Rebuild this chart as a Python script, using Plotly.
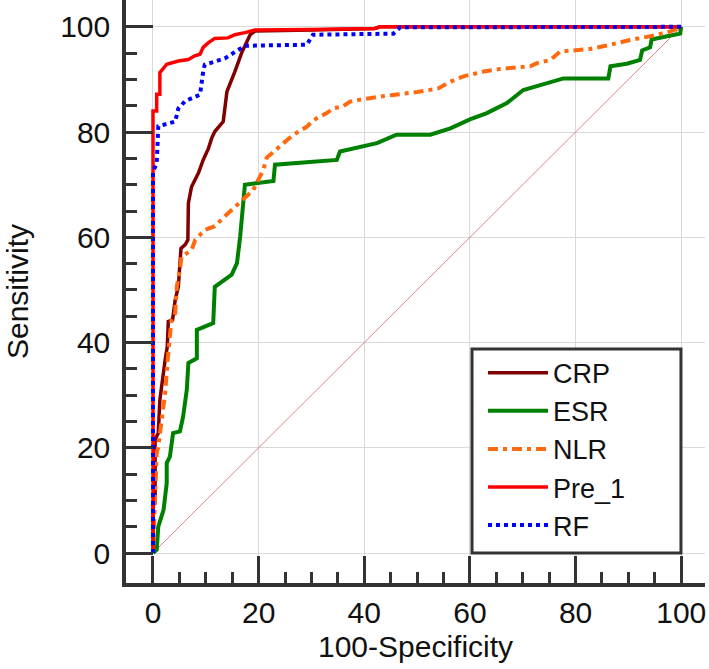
import plotly.graph_objects as go

# ---- data ----
series_names = ["CRP", "ESR", "NLR", "Pre_1", "RF"]

crp_x = [0, 0, 0.4, 0.4, 1.0, 1.3, 2.3, 2.7, 2.9, 3.7, 4.2, 4.8, 5.3, 6.1, 6.6, 6.7, 7.3, 8.6, 9.5, 10.5, 11.1, 11.7, 13.3, 14.0, 15.5, 16.8, 18.4, 19.3, 30, 42, 43, 100]
crp_y = [0, 9, 9.5, 21.5, 22.8, 29.1, 36.7, 39.2, 44, 44.3, 48.1, 50.6, 57.9, 58.6, 59.5, 66.5, 69.6, 72.2, 74.7, 76.9, 78.8, 80.1, 82, 87.7, 91.5, 95.1, 98.5, 99.2, 99.4, 99.7, 100, 100]

esr_x = [0, 0.7, 1.0, 1.6, 2.0, 2.6, 2.6, 3.2, 3.8, 5.1, 5.7, 6.4, 6.7, 8.3, 8.3, 11.4, 11.7, 14.9, 15.9, 16.5, 17.1, 17.4, 22.8, 23.1, 34.8, 35.4, 42.4, 46.1, 52.5, 56.3, 60.0, 63.2, 67.0, 70.1, 77.7, 86.2, 86.6, 89.7, 92.2, 92.6, 94.1, 94.4, 97.3, 99.8, 100]
esr_y = [0, 0.6, 5, 6.9, 8.2, 13.3, 17.1, 18.3, 22.8, 23.1, 25.9, 31, 36.1, 37, 42.4, 43.7, 50.6, 52.9, 55.1, 60.1, 68.4, 70, 70.7, 73.8, 74.7, 76.3, 77.9, 79.5, 79.5, 80.7, 82.4, 83.6, 85.5, 88, 90.2, 90.2, 92.5, 93, 93.7, 95.5, 96.1, 97.6, 98.2, 98.7, 100]

nlr_x = [0, 0.5, 0.7, 1.0, 1.6, 2.3, 2.8, 3.5, 4.2, 4.5, 5.1, 5.4, 7.3, 8.0, 9.8, 11.7, 13.6, 15.5, 17.4, 19.0, 19.6, 20.9, 21.5, 22.8, 24.7, 26.6, 29.1, 30.4, 32.9, 34.1, 36.0, 37.3, 40, 45, 50, 54, 56.3, 58.8, 62.6, 65.7, 71.4, 72.7, 75.2, 77.1, 80.2, 82.8, 86.6, 90.3, 94.1, 97.9, 100]
nlr_y = [0, 18, 19, 20.2, 25.3, 30.4, 37, 44.3, 45.6, 50.6, 53.8, 56.3, 57.6, 59.5, 61.4, 62.1, 64, 65.8, 67.7, 69, 70.3, 72.8, 75.1, 76.3, 77.9, 79.5, 81, 82.3, 83.6, 84.5, 84.9, 85.8, 86.3, 87, 87.6, 88.3, 89.6, 90.6, 91.5, 92, 92.5, 93.1, 93.7, 95.3, 95.6, 95.8, 96.6, 97.5, 98.2, 99.1, 100]

pre1_x = [0, 0, 0.7, 0.7, 1.3, 1.3, 2.6, 4.8, 6.7, 7.9, 8.9, 9.5, 10.5, 11.7, 14.2, 15.5, 17.4, 19.3, 30, 42, 43, 100]
pre1_y = [0, 84, 84, 87.2, 87.2, 91.3, 92.9, 93.5, 93.8, 94.5, 94.8, 96.1, 97.0, 97.8, 97.9, 98.5, 98.9, 99.4, 99.5, 99.7, 100, 100]

rf_x = [0, 0, 0.7, 1.0, 4.2, 4.8, 6.1, 8.9, 9.5, 9.8, 13.6, 16.8, 17.4, 29.1, 30.3, 45.5, 46.8, 100]
rf_y = [0, 72.5, 74, 81.1, 82, 84.5, 85.9, 87.1, 91.5, 92.8, 94, 95.9, 96.4, 96.6, 98.5, 98.7, 99.9, 100]

ref_x = [0, 100]
ref_y = [0, 100]

major_ticks = [0, 20, 40, 60, 80, 100]
minor_ticks = [5, 10, 15, 25, 30, 35, 45, 50, 55, 65, 70, 75, 85, 90, 95]

FONT = "Arial, Liberation Sans, sans-serif"
AX = "#333333"
TXT = "#111111"

fig = go.Figure()
fig.add_trace(go.Scatter(x=ref_x, y=ref_y, mode="lines", showlegend=False,
                         line=dict(color="#d98888", width=1), hoverinfo="skip"))

styles = [
    (crp_x, crp_y, dict(color="#800000", width=3.5)),
    (esr_x, esr_y, dict(color="#008000", width=4)),
    (nlr_x, nlr_y, dict(color="#ff6a10", width=4, dash="10px,5px,4px,5px")),
    (pre1_x, pre1_y, dict(color="#ff0000", width=3.5)),
    (rf_x, rf_y, dict(color="#0000ff", width=4, dash="dot")),
]
for name, (xs, ys, ln) in zip(series_names, styles):
    fig.add_trace(go.Scatter(x=xs, y=ys, mode="lines", name=name, line=ln))

def axis_common(standoff):
    return dict(
        showline=True, linewidth=3.5, linecolor=AX, mirror=False,
        showgrid=True, gridcolor="#d9d9d9", gridwidth=1, zeroline=False,
        tickmode="array", tickvals=major_ticks,
        ticks="inside", ticklen=27, tickwidth=3, tickcolor=AX,
        minor=dict(tickmode="array", tickvals=minor_ticks, ticks="inside", ticklen=11,
                   tickwidth=2.5, tickcolor=AX, showgrid=False),
        tickfont=dict(family=FONT, size=30, color=TXT),
        ticklabelstandoff=standoff,
    )

fig.update_xaxes(range=[-5.11, 104.5], title=dict(text="100-Specificity", standoff=9,
                 font=dict(family=FONT, size=30, color=TXT)), **axis_common(0))
fig.update_yaxes(range=[-5.7, 105.1], title=dict(text="Sensitivity", standoff=24,
                 font=dict(family=FONT, size=30, color=TXT)), **axis_common(6))

# legend frame (paper coordinates)
fig.add_shape(type="rect", xref="paper", yref="paper", layer="above",
              x0=0.5976, x1=0.9585, y0=0.0515, y1=0.4014,
              line=dict(color=AX, width=3), fillcolor="white")

fig.update_layout(
    width=709, height=669,
    margin=dict(l=126, r=4, t=0, b=86, autoexpand=False),
    plot_bgcolor="white", paper_bgcolor="white",
    font=dict(family=FONT, color=TXT),
    legend=dict(x=0.6166, y=0.402, xanchor="left", yanchor="top",
                borderwidth=0, bgcolor="rgba(0,0,0,0)",
                font=dict(family=FONT, size=27, color=TXT),
                itemwidth=60, tracegroupgap=0),
    showlegend=True,
)

fig.write_html("out.html", config={"displayModeBar": False},
               post_script="document.body.style.margin='0';document.body.style.overflow='hidden';")
